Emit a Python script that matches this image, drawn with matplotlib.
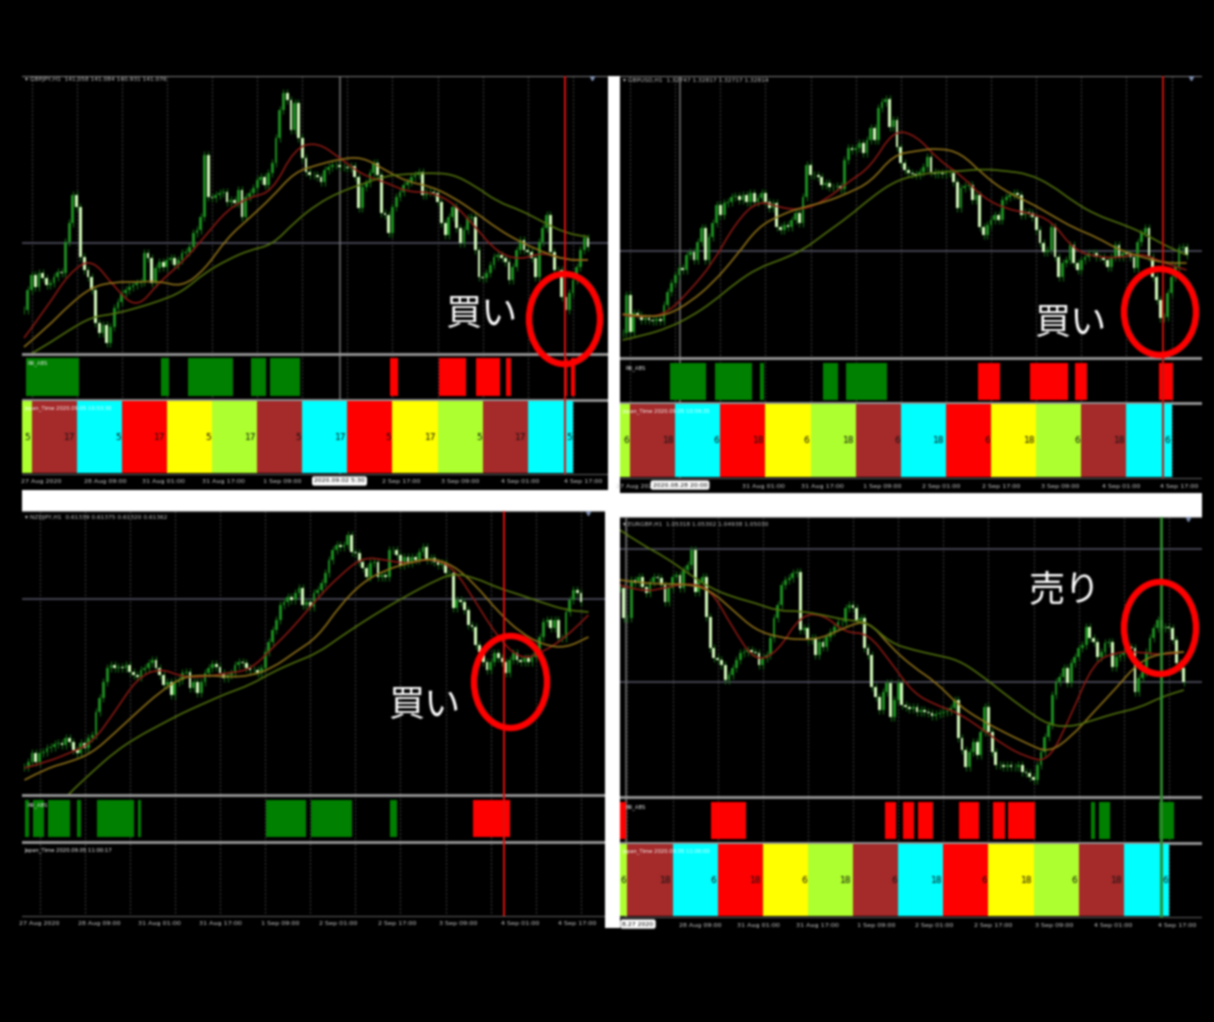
import numpy as np
import matplotlib
matplotlib.use("Agg")
import matplotlib.pyplot as plt
from matplotlib.patches import Ellipse, PathPatch
from matplotlib.path import Path

W, H = 1214, 1022
PPB = 3.76  # pixels per H1 bar

# closes per bar, in picture rows (the price scale itself is unreadable)
gbpjpy_close = [310,290,275,287,273,278,285,283,277,272,273,242,223,195,207,257,270,277,290,323,333,325,343,327,308,302,293,290,287,285,283,282,253,258,283,268,262,267,260,258,265,260,253,252,247,233,230,217,155,197,198,195,193,192,202,200,203,190,217,197,193,188,180,177,185,173,163,138,110,93,100,130,103,138,158,172,175,175,177,182,170,167,165,165,167,167,168,166,177,208,187,183,173,163,175,213,215,233,207,197,192,185,182,177,175,172,195,192,192,193,202,223,235,217,207,228,243,230,218,217,250,277,278,273,265,257,255,258,262,280,267,250,240,250,252,258,277,242,228,215,252,270,270,297,310,293,280,267,250,238,247]
gbpusd_close = [333,295,332,313,315,320,318,320,321,319,321,305,292,283,275,268,270,255,252,260,242,228,260,237,223,205,215,203,202,197,196,200,195,202,193,202,198,193,202,208,203,227,230,225,227,220,213,223,197,165,175,175,177,185,183,187,187,186,189,160,148,150,148,143,153,140,128,140,108,102,99,127,120,147,163,170,173,174,175,172,167,157,172,174,173,174,173,173,182,208,188,186,185,200,195,227,235,225,220,215,220,200,197,195,193,195,215,212,213,217,230,243,252,250,227,257,277,263,260,245,263,270,260,257,253,253,257,257,260,267,257,245,257,253,254,257,268,242,233,228,257,277,300,318,317,293,277,267,248,247,255]
nzdjpy_close = [767,762,753,762,753,752,748,747,744,743,745,738,742,750,753,743,748,738,735,712,698,682,668,665,668,667,668,665,672,675,677,670,668,663,660,668,675,685,682,695,682,680,673,672,688,682,693,682,673,668,664,667,673,678,675,673,665,662,663,668,670,670,673,668,652,642,630,620,605,602,597,600,593,588,605,602,607,593,590,583,573,560,550,545,547,545,535,552,553,562,568,577,563,562,577,575,577,550,550,555,565,557,563,557,560,552,547,560,558,562,565,563,573,573,608,600,602,610,625,627,645,652,662,670,662,653,658,662,673,660,653,660,662,658,662,657,652,637,622,620,628,620,638,638,612,600,590,593,602]
eurgbp_close = [588,618,618,580,583,577,587,593,582,577,578,585,602,588,577,575,588,570,565,550,592,582,577,617,648,658,660,665,680,675,668,660,653,652,650,652,653,665,658,655,638,618,605,585,580,578,573,572,630,628,640,638,655,642,647,637,632,627,622,622,608,605,608,620,618,648,655,687,697,710,692,683,717,700,683,705,707,709,707,712,710,712,713,716,714,713,712,711,708,700,738,750,767,752,742,755,732,707,732,752,765,765,767,765,767,767,765,772,773,777,780,765,752,737,725,695,682,677,668,683,663,657,648,645,627,638,642,657,652,643,642,667,657,655,652,647,648,692,678,672,652,638,628,620,628,627,628,640,663,668,682]

# moving averages read every 6 bars
gbpjpy_red = [338,308,273,258,287,309,282,263,237,210,197,192,148,142,158,175,182,192,192,202,227,253,260,252,260,260]
gbpjpy_orange = [347,328,305,287,282,282,281,287,270,238,218,197,172,165,159,157,170,182,186,197,212,229,242,252,260,260]
gbpjpy_olive = [358,345,330,317,314,308,301,292,273,260,250,245,222,204,192,184,176,174,173,174,186,202,210,222,233,237]
gbpusd_red = [315,318,313,290,263,223,200,208,210,200,182,167,130,135,160,175,198,209,213,220,250,257,258,253,263,270]
gbpusd_orange = [314,317,315,302,283,257,227,215,207,202,193,182,155,151,148,153,175,192,202,215,228,237,250,257,263,263]
gbpusd_olive = [340,335,328,317,302,283,268,260,250,233,217,198,182,175,172,171,169,171,174,185,202,215,223,232,245,255]
nzdjpy_red = [768,762,753,743,712,678,668,677,677,673,670,648,625,598,575,557,560,564,558,567,602,638,660,652,637,615]
nzdjpy_orange = [780,768,762,753,733,712,692,677,675,677,676,668,652,637,605,582,570,563,558,565,585,612,633,645,648,637]
nzdjpy_olive = [838,817,793,772,752,737,725,713,703,693,685,672,662,653,637,622,608,595,583,573,578,588,595,603,610,612]
eurgbp_red = [585,592,588,583,588,628,662,652,615,614,633,633,662,693,705,713,728,745,757,762,715,662,652,652,655,652]
eurgbp_orange = [580,583,584,584,590,610,630,637,640,638,627,620,647,667,682,705,720,732,743,753,737,712,688,662,653,652]
eurgbp_olive = [530,545,557,573,588,597,603,611,611,615,620,622,643,650,655,660,675,693,710,725,727,720,713,708,697,690]

# signal blocks: start bar, end bar
gbpjpy_green = [(0.5,14.5),(36.5,38.6),(43.5,55.5),(60.4,64.4),(65.4,73.5)]
gbpjpy_redbars = [(97.3,99.5),(110.4,117.5),(120.3,126.6),(128.3,129.5),(143.5,144.3),(145.6,146.5)]
gbpusd_green = [(12.5,22.3),(24.5,34.5),(36.5,37.5),(53.3,57.3),(59.4,70.3)]
gbpusd_redbars = [(94.5,100.4),(108.3,118.5),(120.2,123.4),(142.6,146.4)]
nzdjpy_green = [(-1.9,-0.9),(0.2,3.06),(4.3,10.1),(12.1,13.15),(17.25,27),(28.2,29.1),(62.2,73),(74.3,85.1),(95.1,97.2)]
nzdjpy_redbars = [(117.2,127.05)]
eurgbp_green = [(125.3,126.3),(127.4,130.4),(143.4,147.3)]
eurgbp_redbars = [(0,1.5),(24.3,33.45),(70.4,73.4),(75.2,78.3),(79.4,83.4),(90.3,95.4),(99.3,102.3),(103.3,110.3)]

session_colors = ["#adff2f","#a52a2a","#00ffff","#ff0000","#ffff00","#adff2f","#a52a2a","#00ffff","#ff0000","#ffff00","#adff2f","#a52a2a","#00ffff"]

gbpjpy_ticks = [4.6,21.5,37.2,53,68.8,100.3,116,132,148.7]
gbpjpy_ticklabels = ["27 Aug 2020","28 Aug 09:00","31 Aug 01:00","31 Aug 17:00","1 Sep 09:00","2 Sep 17:00","3 Sep 09:00","4 Sep 01:00","4 Sep 17:00"]
gbpusd_ticks = [3.5,37.5,53.2,69,84.8,100.7,116.3,132.5,148]
gbpusd_ticklabels = ["27 Aug 2020","31 Aug 01:00","31 Aug 17:00","1 Sep 09:00","2 Sep 01:00","2 Sep 17:00","3 Sep 09:00","4 Sep 01:00","4 Sep 17:00"]
nzdjpy_ticks = [2,17.9,34,50,66,81.4,97,113.3,129.8,145]
nzdjpy_ticklabels = ["27 Aug 2020","28 Aug 09:00","31 Aug 01:00","31 Aug 17:00","1 Sep 09:00","2 Sep 01:00","2 Sep 17:00","3 Sep 09:00","4 Sep 01:00","4 Sep 17:00"]
eurgbp_ticks = [21.3,36.9,52.5,68.1,83.7,99.4,115.5,131.1,148.3]
eurgbp_ticklabels = ["28 Aug 09:00","31 Aug 01:00","31 Aug 17:00","1 Sep 09:00","2 Sep 01:00","2 Sep 17:00","3 Sep 09:00","4 Sep 01:00","4 Sep 17:00"]

JP = ["Noto Sans CJK JP", "DejaVu Sans"]

fig = plt.figure(figsize=(W/100, H/100), dpi=100, facecolor="black")


def pane_axes(left, right, top, bottom):
    ax = fig.add_axes([left/W, 1-bottom/H, (right-left)/W, (bottom-top)/H])
    ax.set_xticks([])
    ax.set_yticks([])
    for s in ax.spines.values():
        s.set_visible(False)
    return ax


def soft_line(ax, xs, ys, col):
    # quadratic path through the midpoints, the MAs are smooth curves in the chart
    pts = np.column_stack([xs, ys])
    mids = (pts[:-1] + pts[1:])/2
    verts = [pts[0]]
    codes = [Path.MOVETO]
    for p, m in zip(pts[1:-1], mids[1:]):
        verts += [p, m]
        codes += [Path.CURVE3, Path.CURVE3]
    verts.append(pts[-1])
    codes.append(Path.LINETO)
    ax.add_patch(PathPatch(Path(verts, codes), fill=False, ec=col, lw=1.15, zorder=2.5))


# white gaps between the four screenshots
pane_axes(22, 1202, 76, 928).set_facecolor("white")


def draw_panel(box, x0, rows, close, first_bar, mas, green, red, ticks, ticklabels, title,
               hlines, cross, line_bar, line_color, circle, word, word_at, hours, time_label,
               box_label, arrow):
    left, right, top, bottom = box
    sep1, sep2, ind_top, ind_bot, band_top, band_bot, label_y = rows
    ax = pane_axes(left, right, top, bottom)
    ax.set_facecolor("black")
    ax.set_xlim((left-x0)/PPB, (right-x0)/PPB)
    ax.set_ylim(bottom, top)

    # grid
    for b in range(2, 155, 12):
        ax.plot([b, b], [top, band_bot], color="#3a3a3a", lw=0.9, ls=(0, (1.5, 1.5)), zorder=1)
    for y in hlines:
        ax.axhline(y, xmax=1, color="#4a4a5a", lw=1.3, zorder=1)
    ax.plot([cross, cross], [top, band_bot], color="#6c6c6c", lw=1.2, zorder=1)

    # candles
    c = np.array(close, dtype=float)
    o = np.r_[c[0], c[:-1]]
    bars = first_bar + np.arange(len(c))
    falling = c > o
    hi = np.minimum(o, c) - 4
    lo = np.maximum(o, c) + 4
    ax.vlines(bars, hi, lo, color="#146414", lw=0.9, zorder=2)
    ax.bar(bars[~falling], (o-c)[~falling], bottom=c[~falling], width=0.75, color="#1c8c20", zorder=2.2)
    ax.bar(bars[falling], (c-o)[falling], bottom=o[falling], width=0.75, color="#d4fbbc", zorder=2.3)

    # moving averages
    for vals, col in zip(mas, ["#8e1a14", "#94761a", "#55760f"]):
        soft_line(ax, first_bar + np.arange(len(vals))*6.0, vals, col)

    # lower panes sit on top of anything running out of the price pane
    ax.bar(ax.get_xlim()[0], bottom-sep1, bottom=sep1, width=ax.get_xlim()[1]-ax.get_xlim()[0],
           align="edge", color="black", zorder=3)
    for y in [sep1, sep2]:
        ax.axhline(y, color="#9a9a9a", lw=2.0, zorder=3.5)
    ax.axhline(top+0.5, color="#777777", lw=0.8, zorder=3.5)
    ax.plot(ax.get_xlim(), [band_bot+1, band_bot+1], color="#5a5a5a", lw=0.8, zorder=3.5)
    for b in range(2, 155, 12):
        ax.plot([b, b], [sep1, band_bot], color="#3a3a3a", lw=0.9, ls=(0, (1.5, 1.5)), zorder=3.2)
    ax.plot([cross, cross], [sep1, band_bot], color="#6c6c6c", lw=1.2, zorder=3.2)

    # signal blocks
    for spans, col in [(green, "#008000"), (red, "#ff0000")]:
        for a, b in spans:
            ax.bar(a, ind_bot-ind_top, bottom=ind_top, width=b-a, align="edge", color=col, zorder=4)

    # sessions
    if hours:
        for k, col in enumerate(session_colors):
            ax.bar(-10+12*k, band_bot-band_top, bottom=band_top, width=12, align="edge", color=col, zorder=4)
            ax.text(1.7+12*k, (band_top+band_bot)/2, str(hours[k % 2]), color="#111111", fontsize=6.5,
                    ha="right", va="center", zorder=4.5)

    ax.plot([line_bar, line_bar], [top, band_bot], color=line_color[0], lw=line_color[1], zorder=5)

    # time axis
    for t, s in zip(ticks, ticklabels):
        ax.text(t, label_y, s, color="#d0d0d0", fontsize=4.6, ha="center", va="center", zorder=6)
    bx, by, bw, txt = box_label
    ax.text((bx-x0)/PPB, by, txt, color="black", fontsize=4.4, ha="center", va="center", zorder=7,
            bbox=dict(boxstyle="round,pad=0.35", fc="white", ec="none"))

    # pane captions
    ax.text((left+3-x0)/PPB, top+4+(3 if top > 500 else 0), "\u25be " + title, color="#c8c8c8", fontsize=4.2, ha="left", va="center", zorder=6)
    ax.text((left+5-x0)/PPB, ind_top+5, "RR_ABS", color="#f0f0f0", fontsize=3.8, ha="left", va="center", zorder=6)
    ax.text((left+2-x0)/PPB, sep2+8, time_label, color="#ffffff", fontsize=3.8, ha="left", va="center", zorder=6)
    ax.plot([(arrow-x0)/PPB], [top+2], marker="v", ms=3, color="#8090b0", zorder=6)

    # hand-drawn circle and word
    cx, cy, w, h = circle
    ax.add_patch(Ellipse(((cx-x0)/PPB, cy), w/PPB, h, fill=False, ec="#ff0000", lw=4.6, zorder=8, clip_on=False))
    ax.text((word_at[0]-x0)/PPB, word_at[1], word, color="white", fontsize=26, family=JP,
            ha="center", va="center", zorder=8)


draw_panel((22, 608, 76, 490), 24.0, (354, 400, 358, 396, 401, 473, 482),
           gbpjpy_close, 0, (gbpjpy_red, gbpjpy_orange, gbpjpy_olive), gbpjpy_green, gbpjpy_redbars,
           gbpjpy_ticks, gbpjpy_ticklabels, "GBPJPY,H1  141.058 141.084 140.931 141.076",
           [243], 84, 143.8, ("#e01010", 1.4), (564.5, 319, 71, 90), "買い", (481, 314), (5, 17),
           "Japan_Time 2020.09.05 10:53:30", (339.5, 481, 55, "2020.09.02 5:30"), 592)

draw_panel((620, 1202, 76, 493), 622.6, (358, 403, 363, 400, 404, 477, 486),
           gbpusd_close, 0, (gbpusd_red, gbpusd_orange, gbpusd_olive), gbpusd_green, gbpusd_redbars,
           gbpusd_ticks, gbpusd_ticklabels, "GBPUSD,H1  1.32747 1.32817 1.32717 1.32814",
           [251], 15.3, 143.7, ("#c81410", 1.4), (1160, 312, 72, 86), "買い", (1070, 323), (6, 18),
           "Japan_Time 2020.09.05 10:59:35", (680, 485, 53, "2020.08.28 20:00"), 1191)

draw_panel((22, 605, 511, 928), 32.0, (795, 842, 800, 837, 843, 915, 923),
           nzdjpy_close, -2, (nzdjpy_red, nzdjpy_orange, nzdjpy_olive), nzdjpy_green, nzdjpy_redbars,
           nzdjpy_ticks, nzdjpy_ticklabels, "NZDJPY,H1  0.61339 0.61375 0.61320 0.61362",
           [599], -100, 125.6, ("#e01010", 1.4), (510.5, 682, 73, 92), "買い", (424, 705), None,
           "Japan_Time 2020.09.05 11:00:17", (-100, 923, 0, ""), 588)

draw_panel((620, 1202, 517, 928), 619.9, (797, 843, 802, 839, 844, 916, 925),
           eurgbp_close, 0, (eurgbp_red, eurgbp_orange, eurgbp_olive), eurgbp_green, eurgbp_redbars,
           eurgbp_ticks, eurgbp_ticklabels, "EURGBP,H1  1.05318 1.05302 1.04938 1.05030",
           [549, 682], 1.7, 143.8, ("#2e8b2e", 2.0), (1160, 628, 72, 92), "売り", (1065, 590), (6, 18),
           "Japan_Time 2020.09.05 11:00:00", (638, 924, 36, "8.27 2020"), 1188)

fig.savefig("out.png", dpi=100, facecolor="black")

# the reference is an upscaled, soft screenshot
img = plt.imread("out.png")[:, :, :3]
kernel = np.array([1, 4, 6, 4, 1])/16
pad = np.pad(img, ((2, 2), (2, 2), (0, 0)), mode="edge")
soft = np.apply_along_axis(lambda v: np.convolve(v, kernel, mode="valid"), 0, pad)
soft = np.apply_along_axis(lambda v: np.convolve(v, kernel, mode="valid"), 1, soft)
plt.imsave("out.png", np.clip(soft, 0, 1))
